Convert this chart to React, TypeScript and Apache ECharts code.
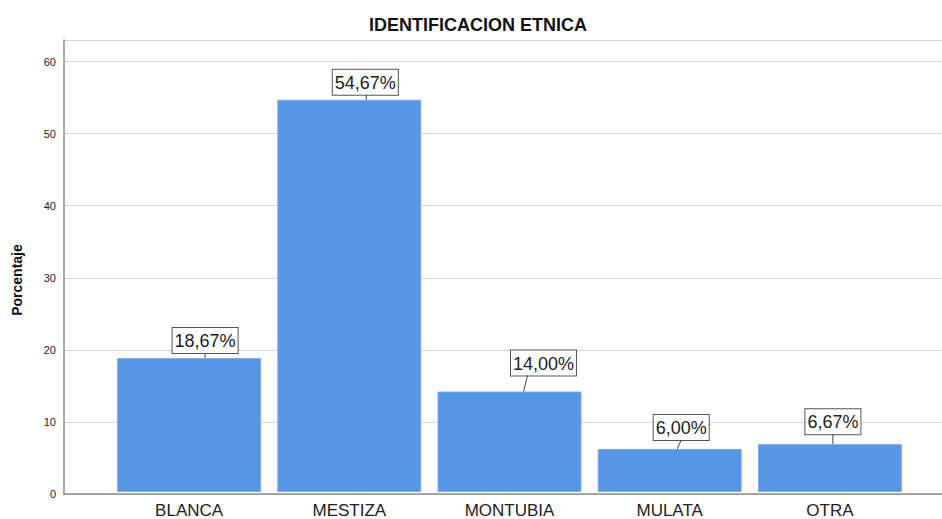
import React, { useEffect, useRef } from "react";
import * as echarts from "echarts";

const categories = ["BLANCA", "MESTIZA", "MONTUBIA", "MULATA", "OTRA"];
const values = [18.67, 54.67, 14.0, 6.0, 6.67];
const labels = ["18,67%", "54,67%", "14,00%", "6,00%", "6,67%"];
const titleText = "IDENTIFICACION ETNICA";
const yName = "Porcentaje";

// label box placement (layout only): horizontal shift of box, gap above bar, leader base shift
const boxShift = [16, 16, 34, 11.5, 3];
const boxGap = [5, 5, 16, 9, 10];
const leaderBase = [16, 17, 14, 7.5, 3];
const leaderTip = [16, 17, 18, 11.5, 3];

export default function App() {
  const ref = useRef<HTMLDivElement>(null);
  useEffect(() => {
    if (!ref.current) return;
    const chart = echarts.init(ref.current, null, { renderer: "svg" });
    const font = "Liberation Sans, Arial, sans-serif";
    const yCommon = {
      type: "value",
      min: 0,
      max: 63,
      interval: 10,
    };
    chart.setOption({
      animation: false,
      backgroundColor: "#ffffff",
      textStyle: { fontFamily: font },
      graphic: [
        {
          type: "text",
          x: 478,
          y: 25,
          style: {
            text: titleText,
            fontFamily: font,
            fontSize: 18,
            fontWeight: "bold",
            fill: "#111",
            textAlign: "center",
            textVerticalAlign: "middle",
          },
        },
      ],
      grid: [
        { left: 64, right: 0, top: 40, bottom: 25 },
        { left: 109, right: 32, top: 40, bottom: 25 },
      ],
      xAxis: [
        {
          type: "value",
          gridIndex: 0,
          min: 0,
          max: 1,
          axisLine: { show: true, lineStyle: { color: "#8c8c8c", width: 1.5 } },
          axisTick: { show: false },
          axisLabel: { show: false },
          splitLine: { show: false },
        },
        {
          type: "category",
          gridIndex: 1,
          data: categories,
          axisLine: { show: false },
          axisTick: { show: false },
          axisLabel: {
            color: "#222",
            fontSize: 17,
            fontFamily: font,
            margin: 10,
          },
        },
      ],
      yAxis: [
        {
          ...yCommon,
          gridIndex: 0,
          name: yName,
          nameLocation: "middle",
          nameGap: 40,
          nameTextStyle: {
            fontSize: 14,
            fontWeight: "bold",
            color: "#111",
            fontFamily: font,
            padding: [0, 0, 0, -26],
          },
          axisLine: { show: true, lineStyle: { color: "#8c8c8c", width: 1.5 } },
          axisTick: { show: false },
          axisLabel: {
            color: "#222",
            fontSize: 11,
            fontFamily: font,
            margin: 8,
            showMaxLabel: false,
          },
          splitLine: { show: true, lineStyle: { color: "#d4d4d4", width: 1.2 } },
        },
        {
          ...yCommon,
          gridIndex: 1,
          axisLine: { show: false },
          axisTick: { show: false },
          axisLabel: { show: false },
          splitLine: { show: false },
        },
      ],
      series: [
        {
          type: "bar",
          xAxisIndex: 1,
          yAxisIndex: 1,
          data: values.map((v, i) => ({
            value: v,
            label: { offset: [boxShift[i], 0], distance: boxGap[i] },
          })),
          barWidth: 144,
          itemStyle: { color: "#5596e6", borderColor: "#7aaef0", borderWidth: 1 },
          label: {
            show: true,
            position: "top",
            formatter: (p: any) => labels[p.dataIndex],
            fontSize: 18,
            fontFamily: font,
            color: "#222",
            backgroundColor: "#fff",
            borderColor: "#555",
            borderWidth: 1,
            padding: [4, 2, 3, 2],
          },
          z: 2,
        },
        {
          type: "custom",
          xAxisIndex: 1,
          yAxisIndex: 1,
          data: values.map((v, i) => [i, v]),
          z: 3,
          renderItem: (params: any, api: any) => {
            const i = params.dataIndex;
            const pt = api.coord([api.value(0), api.value(1)]);
            return {
              type: "line",
              shape: {
                x1: pt[0] + leaderBase[i],
                y1: pt[1],
                x2: pt[0] + leaderTip[i],
                y2: pt[1] - boxGap[i],
              },
              style: { stroke: "#444", lineWidth: 1 },
            };
          },
        },
      ],
    });
    return () => chart.dispose();
  }, []);
  return (
    <div
      ref={ref}
      style={{ position: "fixed", left: 0, top: 0, width: 942, height: 519 }}
    />
  );
}
